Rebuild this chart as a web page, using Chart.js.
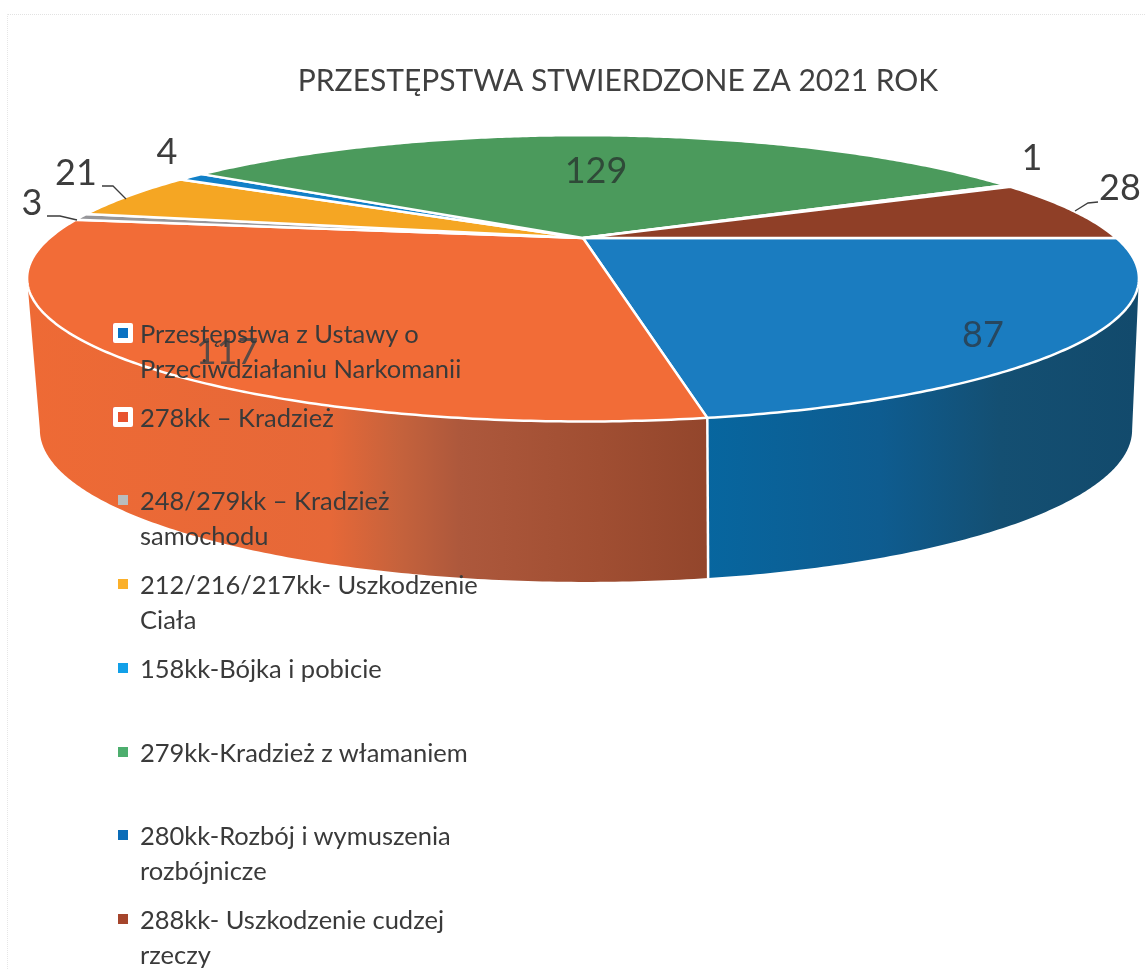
<!DOCTYPE html>
<html lang="pl"><head><meta charset="utf-8">
<script src="https://cdn.jsdelivr.net/npm/chart.js@4/dist/chart.umd.min.js"></script>
<style>
html,body{margin:0;padding:0;background:#fff;width:1146px;height:970px;overflow:hidden}
#wrap{position:relative;width:1146px;height:970px}
canvas{position:absolute;left:0;top:0}
#frame{position:absolute;left:7px;top:14px;width:1139px;height:956px;border-top:1px dotted #e2e2e2;border-left:1px dotted #e6e6e6}
.row{position:absolute;left:140px;width:345px;font:25.5px/35px Lato,sans-serif;color:#3a3a3a}
.box{position:absolute;left:-27px;top:7px;width:20px;height:20px;display:flex;align-items:center;justify-content:center}
.box i{display:block;width:10px;height:10px}
.sel{background:#fff;border-radius:2px;box-shadow:-1px 0 0 #e8604a}
</style></head><body>
<div id="wrap"><div id="frame"></div><canvas id="c" width="1146" height="970"></canvas><div id="legend"></div></div>
<script>
const titleText = 'PRZESTĘPSTWA STWIERDZONE ZA 2021 ROK';
const categories = [
  'Przestępstwa z Ustawy o Przeciwdziałaniu Narkomanii',
  '278kk – Kradzież',
  '248/279kk – Kradzież samochodu',
  '212/216/217kk- Uszkodzenie Ciała',
  '158kk-Bójka i pobicie',
  '279kk-Kradzież z włamaniem',
  '280kk-Rozbój i wymuszenia rozbójnicze',
  '288kk- Uszkodzenie cudzej rzeczy'
];
const values = [87, 117, 3, 21, 4, 129, 1, 28];
const sliceColors = ['#1a7cc0', '#f26c37', '#96969a', '#f5a623', '#1180c8', '#4b9a5c', '#2f6fb0', '#8f3f27'];
const legendColors = ['#0a72c2', '#e8532f', '#b9bdbd', '#fbb02a', '#12a0e8', '#4dae6e', '#0a6cb8', '#a5452c'];
const sideStops = {
  0: [[705,'#07669f'],[880,'#0e5c90'],[1000,'#144f72'],[1137,'#124a6c']],
  1: [[27,'#ee6a35'],[330,'#e66838'],[400,'#c5623c'],[460,'#ad583c'],[600,'#a04e32'],[705,'#93462c']]
};
// layout only
const legendLineY = [333, 417, 500, 584, 668, 752, 835, 919];
const labelPos = [[983,335],[227,352],[32,203],[76,173],[167,152],[596,171],[1032,158],[1120,188]];
const leaders = {2:[[47,216],[60,216],[77,220]],3:[[102,186],[113,186],[126,199]],7:[[1098,202],[1088,203],[1075,211]]};
const topDisc = {cx:583, y0:238, a:533.4, b:131.8, k:0.2817};
const botDisc = {cx:586, y0:387, a:524, b:140, k:0.2817};

function proj(d, t){
  const u = Math.cos(t), v = Math.sin(t), w = 1 - d.k * v;
  return [d.cx + d.a * u / w, d.y0 + d.b * v / w];
}
function arcPts(d, t1, t2){
  const n = Math.max(2, Math.ceil(Math.abs(t2 - t1) / 0.01)), p = [];
  for (let i = 0; i <= n; i++) p.push(proj(d, t1 + (t2 - t1) * i / n));
  return p;
}
function trace(ctx, pts){
  ctx.beginPath();
  pts.forEach((p, i) => i ? ctx.lineTo(p[0], p[1]) : ctx.moveTo(p[0], p[1]));
  ctx.closePath();
}
const pie3d = {
  id: 'pie3d',
  beforeDatasetsDraw(chart){
    const ctx = chart.ctx, arcs = chart.getDatasetMeta(0).data;
    const vis1 = Math.asin(topDisc.k), vis2 = Math.PI - vis1;
    ctx.save();
    // side wall
    arcs.forEach((el, i) => {
      const s = Math.max(el.startAngle, vis1), e = Math.min(el.endAngle, vis2);
      if (e <= s) return;
      const pts = arcPts(topDisc, s, e).concat(arcPts(botDisc, e, s));
      const stops = sideStops[i];
      if (stops) {
        const x0 = stops[0][0], x1 = stops[stops.length - 1][0];
        const g = ctx.createLinearGradient(x0, 0, x1, 0);
        stops.forEach(st => g.addColorStop((st[0] - x0) / (x1 - x0), st[1]));
        ctx.fillStyle = g;
      } else ctx.fillStyle = el.options.backgroundColor;
      trace(ctx, pts); ctx.fill();
    });
    // wall seams
    arcs.forEach(el => {
      const t = el.endAngle;
      if (t > vis1 && t < vis2) {
        const a = proj(topDisc, t), b = proj(botDisc, t);
        ctx.strokeStyle = '#fff'; ctx.lineWidth = 2.5;
        ctx.beginPath(); ctx.moveTo(a[0], a[1]); ctx.lineTo(b[0], b[1]); ctx.stroke();
      }
    });
    // top face
    arcs.forEach(el => {
      const pts = [[topDisc.cx, topDisc.y0]].concat(arcPts(topDisc, el.startAngle, el.endAngle));
      trace(ctx, pts);
      ctx.fillStyle = el.options.backgroundColor;
      ctx.fill();
      ctx.strokeStyle = el.options.borderColor;
      ctx.lineWidth = el.options.borderWidth;
      ctx.lineJoin = 'round';
      ctx.stroke();
    });
    ctx.restore();
    return false;
  },
  afterDraw(chart){
    const ctx = chart.ctx;
    ctx.save();
    ctx.font = '36px Lato, sans-serif';
    ctx.textAlign = 'center'; ctx.textBaseline = 'middle';
    values.forEach((v, i) => {
      ctx.fillStyle = i === 0 ? '#27475f' : i === 1 ? '#5b4a45' : i === 5 ? '#2f4a38' : '#3d3d3d';
      ctx.fillText(String(v), labelPos[i][0], labelPos[i][1]);
    });
    ctx.strokeStyle = '#3d3d3d'; ctx.lineWidth = 1.3;
    Object.values(leaders).forEach(l => {
      ctx.beginPath();
      l.forEach((p, j) => j ? ctx.lineTo(p[0], p[1]) : ctx.moveTo(p[0], p[1]));
      ctx.stroke();
    });
    ctx.restore();
  }
};
new Chart(document.getElementById('c'), {
  type: 'pie',
  data: { labels: categories, datasets: [{ data: values, backgroundColor: sliceColors, borderColor: '#ffffff', borderWidth: 2.5 }] },
  options: {
    responsive: false, animation: false, rotation: 90,
    layout: { padding: { left: 90, top: 63 } },
    plugins: {
      legend: { display: false }, tooltip: { enabled: false },
      title: { display: true, text: titleText, color: '#404040', font: { family: 'Lato, sans-serif', size: 30, weight: 'normal' }, padding: 0 }
    }
  },
  plugins: [pie3d]
});
const lg = document.getElementById('legend');
categories.forEach((c, i) => {
  const r = document.createElement('div');
  r.className = 'row';
  r.style.top = (legendLineY[i] - 17.5) + 'px';
  r.textContent = c;
  const b = document.createElement('span');
  b.className = 'box' + (i < 2 ? ' sel' : '');
  const m = document.createElement('i');
  m.style.background = legendColors[i];
  b.appendChild(m); r.appendChild(b); lg.appendChild(r);
});
</script></body></html>
